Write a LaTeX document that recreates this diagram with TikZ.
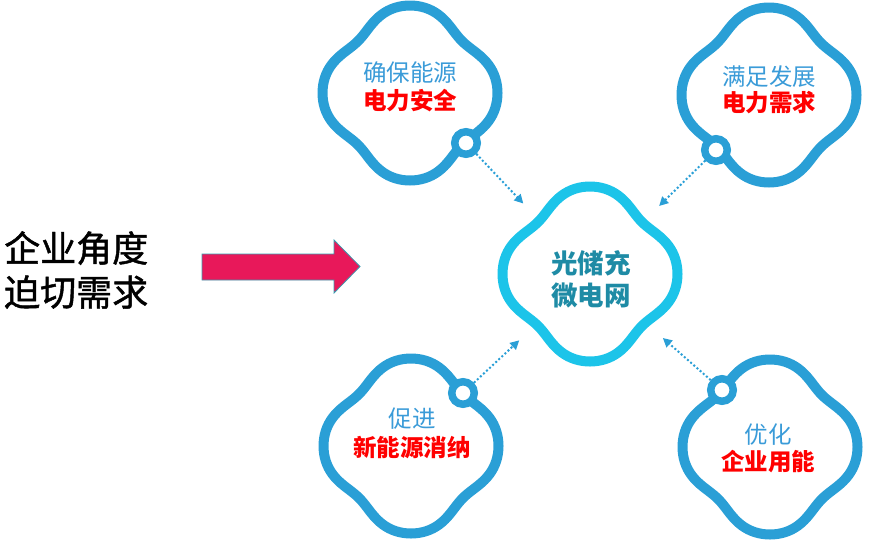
\documentclass[tikz,border=0pt]{standalone}
\usepackage{fontspec}
\newfontfamily\cjk{Noto Sans CJK SC}
\newfontfamily\cjkmed[FakeBold=1.3]{Noto Sans CJK SC}
\usetikzlibrary{arrows.meta}
\definecolor{cloudblue}{HTML}{2A9FD6}
\definecolor{centercyan}{HTML}{1CC4E9}
\definecolor{centertext}{HTML}{1E8BA5}
\definecolor{bluetext}{HTML}{3A9BD8}
\definecolor{arrowred}{HTML}{E8185A}
\definecolor{arrowedge}{HTML}{3A9DB0}
\newcommand\drawcloud[3]{%
  \draw[line width=10pt,line join=round,#3]
    plot[domain=0:360,samples=145,variable=\t]
    ({#1+(81.3+7*cos(4*\t)-0.8*cos(8*\t))*cos(\t)},
     {#2+(81.3+7*cos(4*\t)-0.8*cos(8*\t))*sin(\t)}) -- cycle;}
\begin{document}
\begin{tikzpicture}[x=1pt,y=-1pt,
  ring/.style={circle,draw=cloudblue,fill=white,line width=7.5pt,minimum size=22.5pt,inner sep=0pt},
  target/.style={circle,minimum size=194pt,inner sep=0pt,outer sep=0pt},
  bluelbl/.style={font=\cjk\fontsize{23.5}{28}\selectfont,text=bluetext,inner sep=0pt},
  redlbl/.style={font=\cjk\bfseries\fontsize{23.5}{28}\selectfont,text=red,inner sep=0pt},
  dotarrow/.style={draw=cloudblue,line width=2pt,dash pattern=on 2pt off 2.2pt,-{Triangle[length=9pt,width=9pt]}}]
\path[use as bounding box] (0,0) rectangle (869,544);
% left text
\node[anchor=west,inner sep=0pt,font=\cjkmed\fontsize{36}{44}\selectfont,align=left] (lefttext) at (4,270)
  {企业角度\\迫切需求};
% big arrow
\draw[fill=arrowred,draw=arrowedge,line width=0.8pt]
  (202,254) -- (334,254) -- (334,240) -- (360,266.5) -- (334,293) -- (334,280) -- (202,280) -- cycle;
% clouds
\drawcloud{590}{274}{centercyan}
\drawcloud{410}{93}{cloudblue}
\drawcloud{769}{95}{cloudblue}
\drawcloud{411}{446}{cloudblue}
\drawcloud{770}{447}{cloudblue}
% cloud nodes
\node[target] (c0) at (590,274) {};
\node[inner sep=0pt,font=\cjk\bfseries\fontsize{26.5}{32}\selectfont,text=centertext,align=center] (ctext) at (591,279) {光储充\\微电网};
\node[bluelbl] (t1a) at (410,73) {确保能源};
\node[redlbl] (t1b) at (410,101) {电力安全};
\node[bluelbl] (t2a) at (769,77) {满足发展};
\node[redlbl] (t2b) at (769,103) {电力需求};
\node[bluelbl] (t3a) at (412,419) {促进};
\node[redlbl] (t3b) at (412,448) {新能源消纳};
\node[bluelbl] (t4a) at (768,435) {优化};
\node[redlbl] (t4b) at (768,462) {企业用能};
% rings
\node[ring] (r1) at (466,143) {};
\node[ring] (r2) at (716,150) {};
\node[ring] (r3) at (463,393) {};
\node[ring] (r4) at (722,390) {};
% connectors
\draw[dotarrow] (r1) -- (c0);
\draw[dotarrow] (r2) -- (c0);
\draw[dotarrow] (r3) -- (c0);
\draw[dotarrow] (r4) -- (c0);
\end{tikzpicture}
\end{document}
